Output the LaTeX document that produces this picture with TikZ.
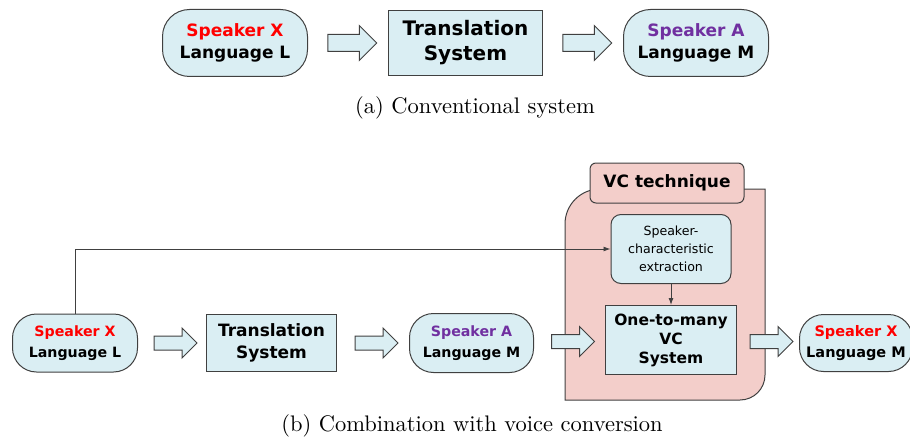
\documentclass[tikz,border=0pt]{standalone}
\usepackage{fontspec}
\newfontfamily\gothic{DejaVu Sans}
\newfontfamily\capfont{lmroman10-regular}[Extension=.otf]
\usetikzlibrary{shapes.arrows,positioning,calc,arrows.meta}
\definecolor{boxblue}{RGB}{218,238,243}
\definecolor{vcpink}{RGB}{243,206,202}
\definecolor{edgegray}{RGB}{64,64,64}
\definecolor{spkred}{RGB}{255,0,0}
\definecolor{spkpurple}{RGB}{112,48,160}
\newcommand{\spkX}{\textcolor{spkred}{Speaker X}}
\newcommand{\spkA}{\textcolor{spkpurple}{Speaker A}}

\begin{document}
\begin{tikzpicture}[x=1pt,y=1pt,semithick,>={Latex[length=7pt,width=5pt]},
                    node distance=80pt,
  pill/.style={draw=edgegray,line width=1pt,fill=boxblue,rounded corners=27pt,
               align=center,inner sep=0pt,minimum width=145pt,minimum height=67pt,
               font=\gothic\bfseries\fontsize{17}{22}\selectfont},
  sysbox/.style={draw=edgegray,line width=1pt,fill=boxblue,align=center,
               inner sep=0pt,minimum width=154pt,minimum height=65pt,
               font=\gothic\bfseries\fontsize{20}{25}\selectfont},
  smallpill/.style={pill,rounded corners=24pt,minimum width=125pt,minimum height=58pt,
               font=\gothic\bfseries\fontsize{14.2}{21}\selectfont},
  smallbox/.style={sysbox,minimum width=130pt,minimum height=57pt,
               font=\gothic\bfseries\fontsize{17}{22}\selectfont},
  bigarrow/.style={single arrow,draw=edgegray,line width=1pt,fill=boxblue,
               inner sep=8pt,single arrow head extend=9pt,minimum height=49pt},
  smallarrow/.style={bigarrow,inner sep=6.5pt,single arrow head extend=8pt,
               minimum height=43pt},
  thinline/.style={draw=edgegray,line width=0.9pt},
  caption/.style={font=\capfont\fontsize{22.5}{26}\selectfont}]

  \useasboundingbox (0,0) rectangle (910,-441);

  % (a) conventional system
  \node[pill]   (sx1) at (235,-43)     {\spkX\\Language L};
  \node[sysbox] (ts1) [right=of sx1]   {Translation\\System};
  \node[pill]   (sa1) [right=of ts1]   {\spkA\\Language M};
  \node[bigarrow] (a1) at ($(sx1.east)!0.5!(ts1.west)$) {};
  \node[bigarrow] (a2) at ($(ts1.east)!0.5!(sa1.west)$) {};
  \node[caption] (capa) at (475,-108) {(a) Conventional system};

  % (b) with voice conversion
  \fill[vcpink] (565,-400) -- (565,-224) arc[start angle=180,end angle=90,radius=35]
        -- (765,-189) -- (765,-375) arc[start angle=0,end angle=-90,radius=25] -- cycle;
  \draw[edgegray,line width=1pt] (565,-400) -- (565,-224)
        arc[start angle=180,end angle=90,radius=35]
        -- (765,-189) -- (765,-375) arc[start angle=0,end angle=-90,radius=25] -- cycle;
  \node[draw=edgegray,line width=1pt,fill=vcpink,rounded corners=6pt,
        minimum width=154pt,minimum height=40pt,inner sep=0pt,
        font=\gothic\bfseries\fontsize{17}{22}\selectfont]
        (vct) at (667,-183) {VC technique};

  \node[smallpill] (sx2) at (75,-343)         {\spkX\\Language L};
  \node[smallbox]  (ts2) [right=68pt of sx2]  {Translation\\System};
  \node[smallpill,minimum width=124pt,minimum height=59pt]
                   (sa2) [right=72pt of ts2]  {\spkA\\Language M};
  \node[smallbox,minimum width=131pt,minimum height=69pt,yshift=3pt,
        font=\gothic\bfseries\fontsize{15.5}{19}\selectfont]
                   (vc)  [right=71pt of sa2]  {One-to-many\\VC\\System};
  \node[smallpill,minimum width=113pt,minimum height=57pt,yshift=-3pt,
        font=\gothic\bfseries\fontsize{14.5}{21}\selectfont]
                   (sxm) [right=62pt of vc]   {\spkX\\Language M};
  \node[draw=edgegray,line width=1pt,fill=boxblue,rounded corners=10pt,align=center,
        minimum width=120pt,minimum height=69pt,inner sep=0pt,
        font=\gothic\fontsize{12.6}{18}\selectfont]
                   (ext) [above=21pt of vc]   {Speaker-\\characteristic\\extraction};

  \node[smallarrow] (b1) at ($(sx2.east)!0.5!(ts2.west)$) {};
  \node[smallarrow] (b2) at ($(ts2.east)!0.5!(sa2.west)$) {};
  \node[smallarrow] (b3) at ($(sa2.east)!0.5!(vc.west)$)  {};
  \node[smallarrow] (b4) at ($(vc.east)!0.5!(sxm.west)$)  {};

  \draw[thinline,->] (sx2.north) |- (ext.west);
  \draw[thinline,->] (ext.south) -- (vc.north);

  \node[caption] (capb) at (472,-426) {(b) Combination with voice conversion};
\end{tikzpicture}
\end{document}
